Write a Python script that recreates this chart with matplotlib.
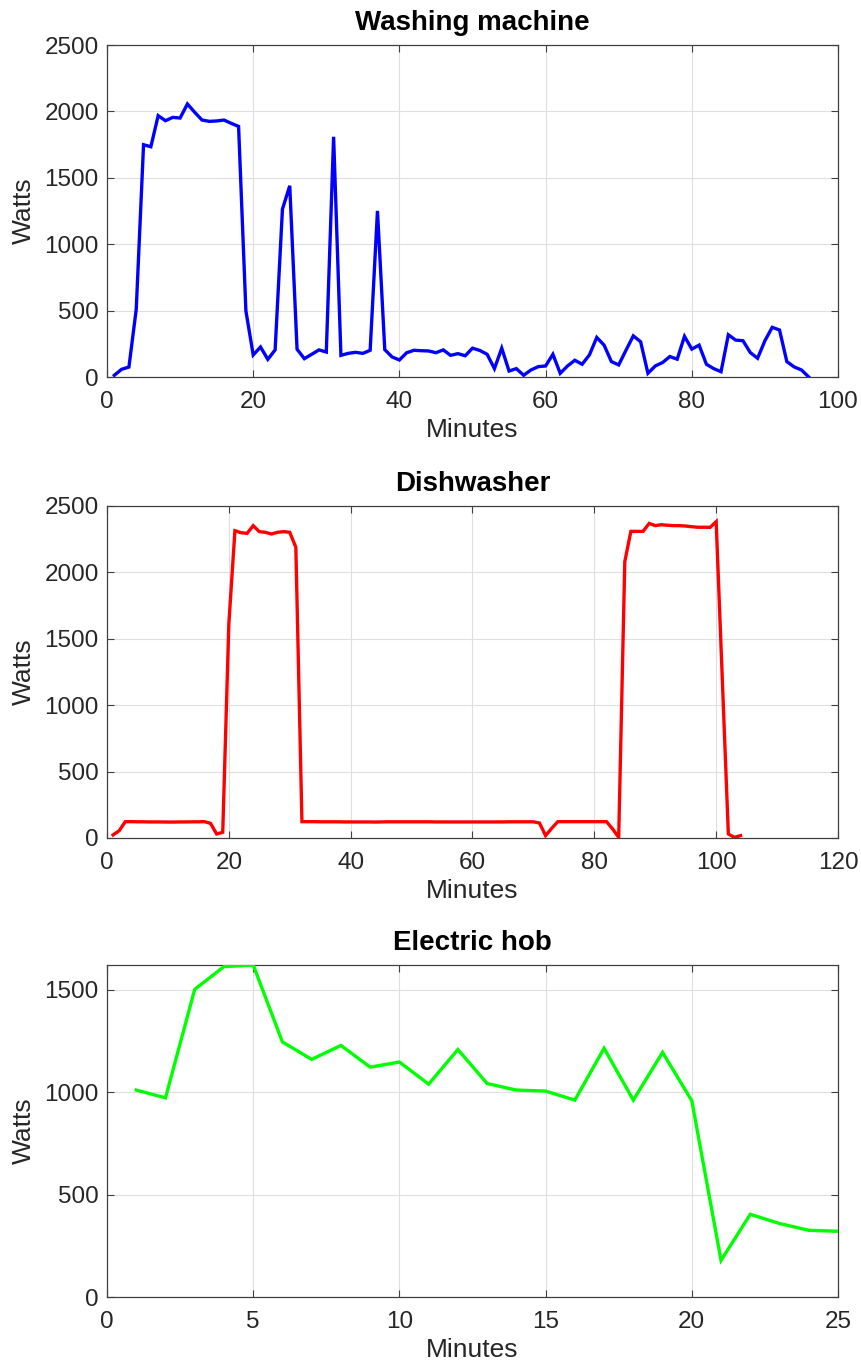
import matplotlib
matplotlib.use("Agg")
import matplotlib.pyplot as plt

plt.rcParams['font.family'] = ['Liberation Sans', 'DejaVu Sans']

# Washing machine (minutes 1..96)
wm_minutes = list(range(1, 97))
wm_watts = [13, 58, 75, 510, 1749, 1734, 1968, 1930, 1955, 1950,
            2056, 1993, 1935, 1925, 1928, 1935, 1910, 1887, 498, 166,
            226, 133, 204, 1264, 1440, 209, 138, 171, 204, 188,
            1809, 163, 178, 186, 178, 201, 1251, 206, 151, 128,
            183, 201, 198, 196, 183, 204, 163, 176, 160, 217,
            200, 171, 63, 217, 45, 63, 13, 53, 78, 83,
            171, 28, 83, 126, 96, 167, 298, 240, 116, 91,
            202, 310, 265, 28, 83, 109, 154, 134, 306, 210,
            240, 96, 63, 40, 318, 278, 273, 184, 141, 273,
            374, 354, 116, 76, 53, 0]

# Dishwasher (minutes 1..104)
dw_minutes = list(range(1, 105))
dw_watts = [23, 55, 123, 123, 122, 122, 121, 121, 121, 120,
            120, 121, 121, 122, 122, 123, 110, 30, 43, 1611,
            2314, 2299, 2294, 2352, 2307, 2302, 2289, 2302, 2307, 2302,
            2189, 123, 123, 123, 122, 122, 122, 122, 121, 121,
            121, 121, 121, 120, 121, 122, 122, 122, 122, 122,
            122, 122, 122, 121, 121, 121, 121, 121, 121, 121,
            121, 121, 121, 121, 121, 122, 122, 122, 122, 122,
            113, 18, 73, 123, 123, 123, 123, 123, 123, 123,
            123, 123, 68, 5, 2081, 2309, 2309, 2309, 2369, 2352,
            2359, 2355, 2352, 2352, 2349, 2344, 2340, 2340, 2339, 2382,
            1206, 30, 5, 18]

# Electric hob (minutes 1..25)
hob_minutes = list(range(1, 26))
hob_watts = [1011, 973, 1503, 1614, 1622, 1246, 1161, 1229, 1123, 1148,
             1040, 1209, 1043, 1011, 1006, 962, 1215, 962, 1195, 959,
             179, 404, 359, 326, 321]

titles = ["Washing machine", "Dishwasher", "Electric hob"]
colors = ["#0000ff", "#ff0000", "#00ff00"]

fig = plt.figure(figsize=(8.62, 13.68), dpi=100)
W, H = 862, 1368
boxes = [(107, 45, 838, 377), (107, 506, 838, 838), (107, 965, 838, 1297)]

series = [(wm_minutes, wm_watts), (dw_minutes, dw_watts), (hob_minutes, hob_watts)]
xlims = [(0, 100), (0, 120), (0, 25)]
xticks = [[0, 20, 40, 60, 80, 100], [0, 20, 40, 60, 80, 100, 120], [0, 5, 10, 15, 20, 25]]
ylims = [(0, 2500), (0, 2500), (0, max(hob_watts))]
yticks = [[0, 500, 1000, 1500, 2000, 2500], [0, 500, 1000, 1500, 2000, 2500], [0, 500, 1000, 1500]]

txt = '#262626'
for i in range(3):
    l, t, r, b = boxes[i]
    ax = fig.add_axes([l / W, 1 - b / H, (r - l) / W, (b - t) / H])
    x, y = series[i]
    ax.plot(x, y, color=colors[i], lw=2.4, solid_joinstyle='miter', zorder=3)
    ax.set_xlim(*xlims[i])
    ax.set_ylim(*ylims[i])
    ax.set_xticks(xticks[i])
    ax.set_yticks(yticks[i])
    ax.grid(True, color='#dfdfdf', lw=0.8, zorder=0)
    ax.set_axisbelow(True)
    ax.tick_params(direction='in', top=True, right=True, length=5, width=0.8,
                   colors='#404040', labelcolor=txt, labelsize=17.5)
    ax.tick_params(axis='x', pad=10)
    ax.tick_params(axis='y', pad=6)
    for s in ax.spines.values():
        s.set_color('#404040')
        s.set_linewidth(0.9)
    ax.set_title(titles[i], fontsize=20, fontweight='bold', color='black', pad=11)
    ax.set_xlabel('Minutes', fontsize=19, color=txt, labelpad=4)
    ax.set_ylabel('Watts', fontsize=19, color=txt, labelpad=6)

fig.savefig('out.png', dpi=100)
